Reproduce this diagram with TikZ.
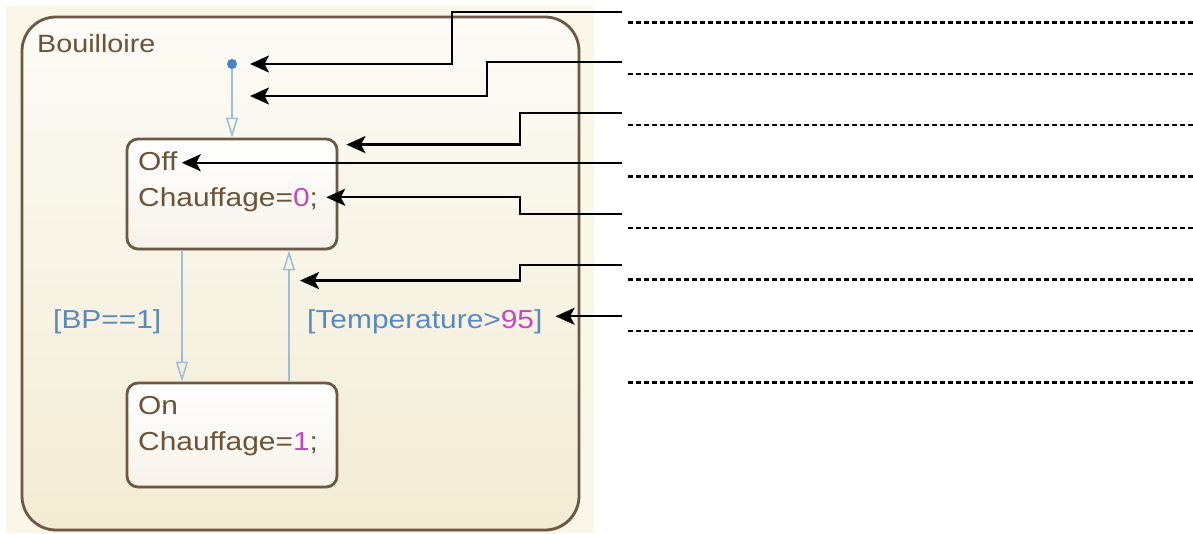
\documentclass[tikz,border=0pt]{standalone}
\usepackage{fontspec}
\setmainfont{Liberation Sans}[FakeStretch=1.15]
\usepackage{xcolor}
\usepackage{tikz}
\usetikzlibrary{arrows.meta, shadows}

\definecolor{screenbg}{RGB}{250,246,232}
\definecolor{chartTop}{RGB}{252,251,246}
\definecolor{chartBottom}{RGB}{243,236,212}
\definecolor{stateBottom}{RGB}{247,243,234}
\definecolor{chartbrown}{RGB}{108,88,68}
\definecolor{textbrown}{RGB}{108,82,55}
\definecolor{transblue}{RGB}{160,190,216}
\definecolor{guardblue}{RGB}{88,138,190}
\definecolor{dotblue}{RGB}{70,130,200}
\definecolor{numpink}{RGB}{200,70,190}

\begin{document}
\begin{tikzpicture}[x=1pt, y=-1pt,
	chart/.style={draw=chartbrown, line width=2.8pt, rounded corners=34pt, top color=chartTop, bottom color=chartBottom, drop shadow={opacity=0.25, shadow xshift=1pt, shadow yshift=-1.5pt}},
	state/.style={draw=chartbrown, line width=2.8pt, rounded corners=11pt, top color=white, bottom color=stateBottom, minimum width=210pt, minimum height=110pt, drop shadow={opacity=0.25, shadow xshift=1pt, shadow yshift=-1.5pt}},
	txt/.style={anchor=base west, inner sep=0pt, text=textbrown, font=\fontsize{26}{30}\selectfont},
	guard/.style={txt, text=guardblue},
	trans/.style={draw=transblue, line width=1.6pt, -{Triangle[open, length=20pt, width=12pt, line width=1.6pt]}},
	callout/.style={draw=black, line width=2.4pt, -{Stealth[length=19pt, width=17pt, inset=4.5pt]}},
	answer/.style={draw=black, line width=2.4pt, dash pattern=on 4.5pt off 3.5pt}
	]
	\useasboundingbox (0,0) rectangle (1193,533);
	\fill[screenbg] (6,6) rectangle (594,533);
	
	% Diagramme d'etats
	\node[chart, minimum width=557pt, minimum height=513pt] (chart) at (300.5,273.5) {};
	\node[txt, font=\fontsize{25}{30}\selectfont] (chartname) at (37,52) {Bouilloire};
	
	\node[circle, fill=dotblue, inner sep=0pt, minimum size=10pt] (init) at (232,64) {};
	\node[state] (off) at (232,194) {};
	\node[state, minimum height=104pt] (on) at (232,435) {};
	
	\node[txt] (offname)   at (138,170) {Off};
	\node[txt] (offaction) at (138,206) {Chauffage=\textcolor{numpink}{0};};
	\node[txt] (onname)    at (138,414) {On};
	\node[txt] (onaction)  at (138,450) {Chauffage=\textcolor{numpink}{1};};
	
	\node[guard] (bpguard)   at (53,328)  {[BP==1]};
	\node[guard] (tempguard) at (307,328) {[Temperature>\textcolor{numpink}{95}]};
	
	% Transitions
	\draw[trans] (init) -- (off.north);
	\draw[trans] ([xshift=-50pt]off.south) -- ([xshift=-50pt]on.north);
	\draw[trans] ([xshift=57pt]on.north) -- ([xshift=57pt]off.south);
	
	% Fleches de legende
	\coordinate (t1) at ([xshift=18pt]init.center);
	\coordinate (t2) at ([shift={(18,32)}]init.center);
	\coordinate (t3) at ([shift={(8,7)}]off.north east);
	\coordinate (t4) at ([shift={(4,2)}]offname.east);
	\coordinate (t5) at ([shift={(8,-2)}]offaction.east);
	\coordinate (t6) at ([shift={(68,-101)}]on.north);
	\coordinate (t7) at ([shift={(13,-5)}]tempguard.east);
	
	\coordinate (s1) at (622,12);
	\coordinate (s2) at (622,62);
	\coordinate (s3) at (622,113);
	\coordinate (s4) at (t4 -| s1);
	\coordinate (s5) at (622,214);
	\coordinate (s6) at (622,265);
	\coordinate (s7) at (t7 -| s1);
	
	\draw[callout] (s1) -| (452,40) |- (t1);
	\draw[callout] (s2) -| (487,80) |- (t2);
	\draw[callout] (s3) -| (520,130) |- (t3);
	\draw[callout] (s4) -- (t4);
	\draw[callout] (s5) -| (520,205) |- (t5);
	\draw[callout] (s6) -| (520,272) |- (t6);
	\draw[callout] (s7) -- (t7);
	
	% Lignes a completer
	\foreach \i in {0,...,7}
		\draw[answer] (628,{22.3+51.43*\i}) -- (1193,{22.3+51.43*\i});
	
\end{tikzpicture}
\end{document}
